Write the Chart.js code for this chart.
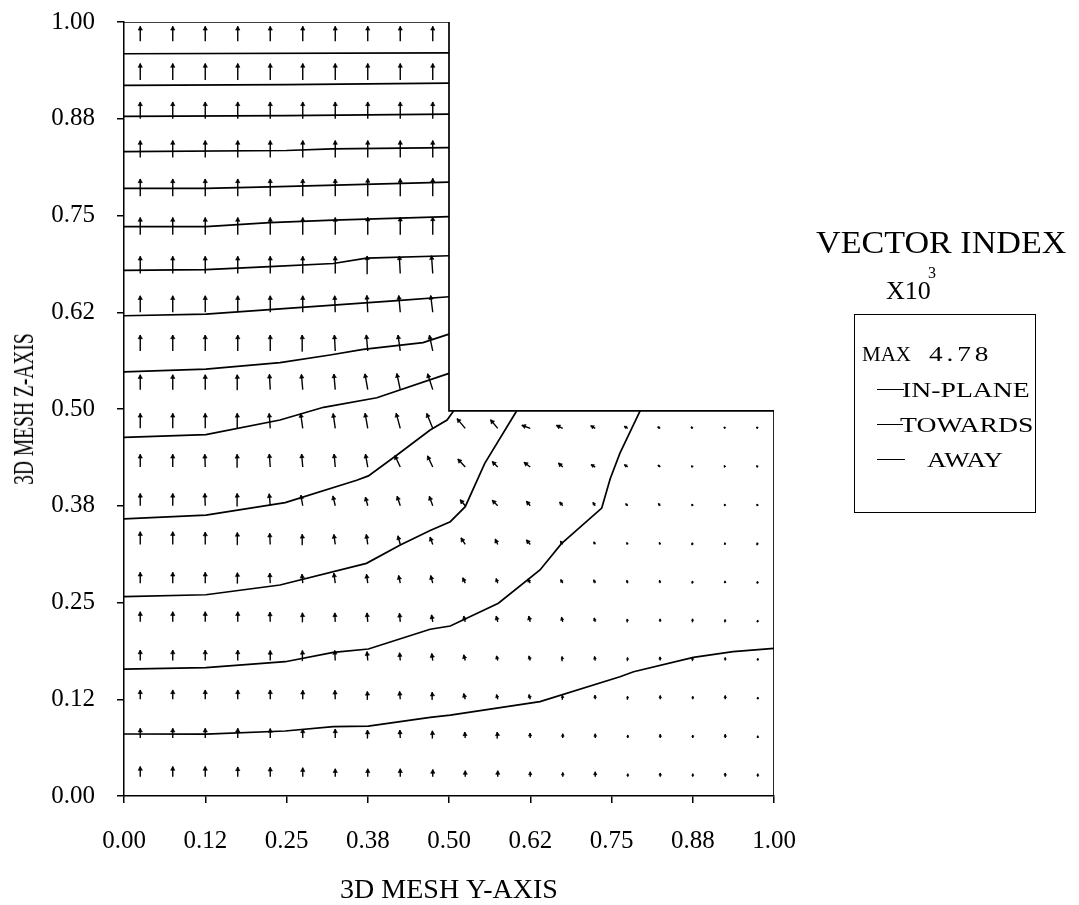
<!DOCTYPE html>
<html>
<head>
<meta charset="utf-8">
<script src="https://cdn.jsdelivr.net/npm/chart.js@4/dist/chart.umd.min.js"></script>
<style>
html, body { margin: 0; padding: 0; background: #fff; }
#wrap { position: relative; width: 1079px; height: 905px; font-family: "Liberation Serif", "Times New Roman", serif; color: #000; }
canvas { position: absolute; left: 0; top: 0; }
.t { position: absolute; white-space: nowrap; line-height: 1; transform-origin: 0 0; }
.ln { position: absolute; height: 0; border-top: 1.5px solid #000; }
</style>
</head>
<body>
<div id="wrap">
  <canvas id="myChart" width="1079" height="905"></canvas>
  <div class="t" style="left:23px;top:409px;font-size:30px;transform-origin:50% 50%;transform:translate(-50%,-50%) rotate(-90deg) scaleX(0.65);">3D MESH Z-AXIS</div>

  <div class="t" style="left:816px;top:227px;font-size:31px;transform:scaleX(1.1);">VECTOR INDEX</div>
  <div class="t" style="left:886px;top:278px;font-size:26px;">X10</div>
  <div class="t" style="left:928px;top:265px;font-size:16px;">3</div>
  <div style="position:absolute;left:854px;top:314px;width:182px;height:199px;border:1px solid #000;box-sizing:border-box;"></div>
  <div class="t" style="left:862px;top:344px;font-size:21px;">MAX</div>
  <div class="t" style="left:929px;top:344px;font-size:21px;letter-spacing:3px;transform:scaleX(1.3);">4.78</div>
  <div class="ln" style="left:877px;top:389px;width:27px;"></div>
  <div class="t" style="left:902px;top:379px;font-size:22px;transform:scaleX(1.26);">IN-PLANE</div>
  <div class="ln" style="left:877px;top:424px;width:26px;"></div>
  <div class="t" style="left:900px;top:414px;font-size:22px;transform:scaleX(1.26);">TOWARDS</div>
  <div class="ln" style="left:877px;top:459px;width:28px;"></div>
  <div class="t" style="left:927px;top:449px;font-size:22px;transform:scaleX(1.22);">AWAY</div>
</div>

<script>
const ctx = document.getElementById('myChart');
const FONT = '"Liberation Serif", "Times New Roman", serif';

// tick labels for both axes (ticks every 0.125)
const tickLabels = ['0.00', '0.12', '0.25', '0.38', '0.50', '0.62', '0.75', '0.88', '1.00'];

// grid of vector origins
const xCols = [0.025, 0.075, 0.125, 0.175, 0.225, 0.275, 0.325, 0.375, 0.425, 0.475,
               0.525, 0.575, 0.625, 0.675, 0.725, 0.775, 0.825, 0.875, 0.925, 0.975];
const yRows = [0.975, 0.925, 0.875, 0.825, 0.775, 0.725, 0.675, 0.625, 0.575, 0.525,
               0.475, 0.425, 0.375, 0.325, 0.275, 0.225, 0.175, 0.125, 0.075, 0.025];

// vector magnitude (x10^3), left block: all 20 rows, columns 0..9
const magLeft = [
    [4.0, 4.0, 4.0, 4.0, 4.0, 4.0, 4.0, 4.0, 4.0, 4.0],
    [4.4, 4.4, 4.4, 4.4, 4.4, 4.4, 4.4, 4.4, 4.4, 4.4],
    [4.5, 4.5, 4.5, 4.5, 4.5, 4.5, 4.5, 4.5, 4.5, 4.5],
    [4.5, 4.5, 4.5, 4.5, 4.5, 4.5, 4.5, 4.5, 4.5, 4.5],
    [4.6, 4.6, 4.6, 4.6, 4.6, 4.6, 4.6, 4.7, 4.7, 4.78],
    [4.6, 4.6, 4.6, 4.6, 4.6, 4.6, 4.6, 4.7, 4.7, 4.78],
    [4.6, 4.6, 4.6, 4.6, 4.6, 4.6, 4.6, 4.7, 4.7, 4.78],
    [4.4, 4.4, 4.4, 4.4, 4.4, 4.4, 4.4, 4.5, 4.5, 4.5],
    [4.25, 4.25, 4.25, 4.25, 4.25, 4.25, 4.25, 4.3, 4.3, 4.3],
    [4.0, 4.0, 4.0, 4.0, 4.1, 4.1, 4.2, 4.3, 4.4, 4.45],
    [4.0, 4.0, 4.0, 4.0, 4.0, 4.0, 4.0, 4.1, 4.2, 4.3],
    [3.4, 3.4, 3.4, 3.4, 3.5, 3.5, 3.5, 3.5, 3.4, 3.3],
    [3.3, 3.3, 3.3, 3.3, 3.2, 2.9, 2.7, 2.4, 2.7, 2.7],
    [3.4, 3.4, 3.3, 3.2, 3.0, 2.7, 2.7, 2.7, 2.4, 2.1],
    [2.9, 2.9, 2.9, 2.8, 2.7, 2.4, 2.7, 2.4, 2.1, 2.1],
    [2.7, 2.7, 2.7, 2.7, 2.6, 2.4, 2.4, 2.4, 2.3, 1.9],
    [2.8, 2.8, 2.8, 2.8, 2.7, 2.7, 2.7, 2.4, 2.1, 1.9],
    [2.5, 2.5, 2.5, 2.5, 2.5, 2.4, 2.4, 2.1, 2.1, 1.9],
    [2.6, 2.6, 2.6, 2.6, 2.5, 2.4, 2.4, 2.1, 2.1, 1.9],
    [2.7, 2.7, 2.7, 2.6, 2.5, 2.4, 2.1, 2.1, 2.1, 1.9]
];
// tilt from vertical, degrees, positive = leaning left
const angLeft = [
    [0, 0, 0, 0, 0, 0, 0, 0, 0, 0],
    [0, 0, 0, 0, 0, 0, 0, 0, 0, 0],
    [0, 0, 0, 0, 0, 0, 0, 0, 0, 0],
    [0, 0, 0, 0, 0, 0, 0, 0, 0, 0],
    [0, 0, 0, 0, 0, 0, 0, 0, 0, 0],
    [0, 0, 0, 0, 0, 0, 0, 0, 0, 0],
    [0, 0, 0, 0, 0, 0, 0, 2, 3, 4],
    [0, 0, 0, 0, 0, 0, 2, 3, 5, 7],
    [0, 0, 0, 0, 0, 2, 3, 5, 8, 12],
    [0, 0, 0, 2, 3, 5, 5, 10, 12, 18],
    [0, 0, 0, 2, 4, 8, 8, 10, 15, 22],
    [0, 0, 2, 3, 4, 5, 5, 10, 25, 25],
    [0, 0, 2, 3, 5, 10, 13, 15, 18, 20],
    [0, 0, 0, 2, 3, 3, 8, 8, 15, 20],
    [0, 0, 0, 2, 3, 5, 8, 8, 12, 15],
    [0, 0, 0, 0, 2, 2, 3, 5, 5, 10],
    [0, 0, 0, 0, 0, 2, 3, 5, 5, 8],
    [0, 0, 0, 0, 0, 0, 2, 3, 5, 5],
    [0, 0, 0, 0, 0, 0, 0, 2, 3, 3],
    [0, 0, 0, 0, 0, 0, 0, 0, 0, 0]
];
// right block: rows 10..19, columns 10..19
const magRight = [
    [3.4, 3.0, 2.4, 1.9, 1.4, 1.1, 0.8, 0.6, 0.5, 0.5],
    [2.9, 2.1, 2.1, 1.6, 1.3, 1.1, 0.8, 0.5, 0.5, 0.5],
    [2.1, 2.1, 1.6, 1.3, 1.1, 0.8, 0.8, 0.5, 0.5, 0.5],
    [2.1, 1.6, 1.6, 1.1, 0.8, 0.6, 0.6, 0.5, 0.5, 0.5],
    [1.6, 1.3, 1.3, 1.1, 1.0, 0.8, 0.8, 0.6, 0.6, 0.5],
    [1.6, 1.6, 1.6, 1.3, 1.1, 0.8, 0.8, 0.8, 0.6, 0.5],
    [1.6, 1.3, 1.3, 1.1, 1.1, 0.8, 1.0, 0.8, 0.8, 0.6],
    [1.6, 1.3, 1.3, 1.1, 1.1, 0.8, 1.0, 0.8, 1.0, 0.6],
    [1.6, 1.6, 1.3, 1.1, 1.1, 0.8, 1.0, 0.8, 1.0, 0.6],
    [1.6, 1.6, 1.3, 1.1, 1.3, 0.8, 1.0, 0.8, 1.0, 0.8]
];
const angRight = [
    [40, 40, 70, 65, 60, 60, 60, 50, 45, 40],
    [43, 45, 53, 47, 60, 55, 50, 45, 40, 40],
    [40, 45, 40, 40, 35, 45, 40, 35, 30, 30],
    [33, 25, 40, 35, 30, 30, 25, 20, 20, 20],
    [25, 20, 30, 30, 25, 20, 15, 10, 10, 10],
    [15, 15, 15, 15, 15, 10, 5, 5, 5, 5],
    [15, 15, 15, 10, 10, 5, 5, 5, 0, 0],
    [15, 15, 15, 5, 5, 5, 0, 0, 0, 0],
    [5, 5, 3, 0, 0, 0, 0, 0, 0, 0],
    [0, 0, 0, 0, 0, 0, 0, 0, 0, 0]
];

// contour lines (x = mesh Y, y = mesh Z)
const contourX = [
    [0, 0.5],
    [0, 0.25, 0.5],
    [0, 0.25, 0.5],
    [0, 0.25, 0.32, 0.5],
    [0, 0.126, 0.224, 0.5],
    [0, 0.126, 0.224, 0.322, 0.5],
    [0, 0.126, 0.224, 0.322, 0.373, 0.5],
    [0, 0.126, 0.322, 0.42, 0.5],
    [0, 0.126, 0.24, 0.317, 0.368, 0.46, 0.5],
    [0, 0.126, 0.24, 0.307, 0.389, 0.5],
    [0, 0.126, 0.248, 0.358, 0.376, 0.42, 0.471, 0.497, 0.507],
    [0, 0.126, 0.24, 0.373, 0.425, 0.471, 0.502, 0.525, 0.555, 0.604],
    [0, 0.126, 0.248, 0.322, 0.376, 0.471, 0.502, 0.576, 0.64, 0.673, 0.735, 0.748, 0.763, 0.794],
    [0, 0.126, 0.248, 0.322, 0.376, 0.471, 0.502, 0.64, 0.763, 0.784, 0.876, 0.937, 1.0]
];
const contourY = [
    [0.959, 0.960],
    [0.918, 0.919, 0.921],
    [0.878, 0.879, 0.881],
    [0.8325, 0.834, 0.836, 0.8376],
    [0.785, 0.785, 0.787, 0.793],
    [0.7356, 0.7356, 0.7407, 0.744, 0.7485],
    [0.679, 0.680, 0.684, 0.688, 0.695, 0.698],
    [0.6205, 0.6227, 0.6343, 0.640, 0.645],
    [0.548, 0.5515, 0.5598, 0.5698, 0.577, 0.5857, 0.5967],
    [0.4634, 0.467, 0.4858, 0.5022, 0.5145, 0.546],
    [0.358, 0.363, 0.379, 0.408, 0.4136, 0.4406, 0.4729, 0.4858, 0.4975],
    [0.2575, 0.26, 0.2726, 0.3006, 0.3243, 0.343, 0.3544, 0.3738, 0.4298, 0.4975],
    [0.164, 0.1658, 0.1735, 0.1856, 0.1899, 0.2154, 0.2196, 0.249, 0.292, 0.326, 0.372, 0.41, 0.443, 0.4975],
    [0.0801, 0.08, 0.084, 0.0896, 0.0904, 0.1016, 0.1046, 0.1219, 0.154, 0.1606, 0.179, 0.1865, 0.1908]
];

// L-shaped mesh outline (top and right edges)
const boundaryX = [0, 0.5, 0.5, 1, 1];
const boundaryY = [1, 1, 0.4975, 0.4975, 0];

// plot area size in px, used to keep arrow lengths in screen pixels
const PLOT_W = 650, PLOT_H = 774;
const ARROW_PX = 3.75;   // px per vector index unit

var shaftPts = [];
var headPts = [];
var headR = [];
var headRot = [];

function addArrow(x0, y0, mag, ang) {
    var len = mag * ARROW_PX;
    var a = ang * Math.PI / 180;
    var ux = -Math.sin(a), uy = Math.cos(a);
    var x1 = x0 + ux * len / PLOT_W;
    var y1 = y0 + uy * len / PLOT_H;
    shaftPts.push({x: x0, y: y0}, {x: x1, y: y1}, {x: null, y: null});
    var r = Math.max(1.1, Math.min(2.5, 0.4 * len));
    headPts.push({x: x1 - ux * r / PLOT_W, y: y1 - uy * r / PLOT_H});
    headR.push(r);
    headRot.push(-ang);
}

for (var i = 0; i < yRows.length; i++) {
    for (var j = 0; j < 10; j++) {
        addArrow(xCols[j], yRows[i], magLeft[i][j], angLeft[i][j]);
    }
}
for (var i = 0; i < 10; i++) {
    for (var j = 0; j < 10; j++) {
        addArrow(xCols[j + 10], yRows[i + 10], magRight[i][j], angRight[i][j]);
    }
}

var datasets = [];
for (var k = 0; k < contourX.length; k++) {
    datasets.push({
        data: contourX[k].map((x, n) => ({x: x, y: contourY[k][n]})),
        showLine: true, borderColor: '#000', borderWidth: 1.7, pointRadius: 0, tension: 0
    });
}
datasets.push({
    data: boundaryX.map((x, n) => ({x: x, y: boundaryY[n]})),
    showLine: true, borderColor: '#000', borderWidth: 1.7, pointRadius: 0, tension: 0
});
datasets.push({
    data: shaftPts, showLine: true, spanGaps: false,
    borderColor: '#000', borderWidth: 1.4, pointRadius: 0, tension: 0
});
datasets.push({
    data: headPts, showLine: false,
    pointStyle: 'triangle', pointRadius: headR, pointRotation: headRot,
    backgroundColor: '#000', borderColor: '#000', borderWidth: 0.6
});

function axisOpts(extra) {
    return Object.assign({
        type: 'linear', min: 0, max: 1,
        ticks: {
            stepSize: 0.125, color: '#000', autoSkip: false, maxRotation: 0,
            font: {family: FONT, size: 25},
            callback: (v, i) => tickLabels[i]
        },
        grid: {display: true, drawOnChartArea: false, drawTicks: true, tickLength: 7, color: '#000', lineWidth: 1.5},
        border: {display: true, color: '#000', width: 1.5}
    }, extra);
}

var xAxis = axisOpts({
    position: 'bottom',
    afterFit: s => { s.height = 109; },
    title: {display: true, text: '3D MESH Y-AXIS', color: '#000',
            font: {family: FONT, size: 28, lineHeight: 1}, padding: {top: 0, bottom: 0}}
});
xAxis.ticks.padding = 23;
var yAxis = axisOpts({
    position: 'left',
    afterFit: s => { s.width = 124; s.paddingTop = 0; s.paddingBottom = 0; }
});
yAxis.ticks.padding = 22;

new Chart(ctx, {
    type: 'scatter',
    data: {datasets: datasets},
    options: {
        responsive: false,
        animation: false,
        devicePixelRatio: 1,
        layout: {padding: {top: 22, right: 305, left: 0, bottom: 0}},
        plugins: {legend: {display: false}, tooltip: {enabled: false}},
        scales: {x: xAxis, y: yAxis}
    }
});
</script>
</body>
</html>
